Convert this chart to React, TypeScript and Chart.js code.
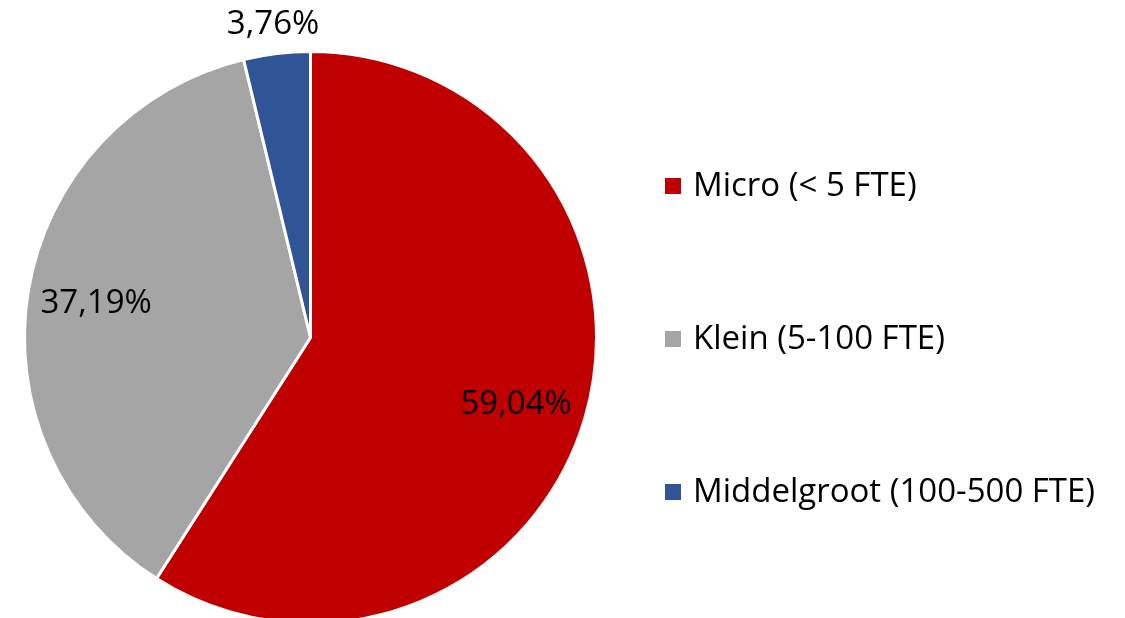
import React, { useEffect, useRef } from "react";
import { Chart, registerables } from "chart.js";

Chart.register(...registerables);

const categories = ["Micro (< 5 FTE)", "Klein (5-100 FTE)", "Middelgroot (100-500 FTE)"];
const shares = [59.04, 37.19, 3.76];
const valueLabels = ["59,04%", "37,19%", "3,76%"];
const colors = ["#C00000", "#A5A5A5", "#2F5597"];

const FONT = '"Open Sans", sans-serif';

const overlayPlugin = {
  id: "overlay",
  afterDraw(chart: any) {
    const ctx = chart.ctx;
    const meta = chart.getDatasetMeta(0);
    const radialFactor = [0.76, 0.76, 1.11];
    ctx.save();
    ctx.font = `33px ${FONT}`;
    ctx.fillStyle = "#000";
    ctx.textAlign = "center";
    ctx.textBaseline = "middle";
    meta.data.forEach((arc: any, i: number) => {
      const p = arc.getProps(["x", "y", "startAngle", "endAngle", "outerRadius"], true);
      const mid = (p.startAngle + p.endAngle) / 2;
      const r = p.outerRadius * radialFactor[i];
      ctx.fillText(valueLabels[i], p.x + Math.cos(mid) * r - (i === 0 ? 3 : 0), p.y + Math.sin(mid) * r + (i === 0 ? 6 : 2));
    });
    // legend
    const lx = 665;
    const ys = [186, 339, 492];
    ctx.textAlign = "left";
    categories.forEach((c, i) => {
      ctx.fillStyle = colors[i];
      ctx.fillRect(lx, ys[i] - 8, 16, 16);
      ctx.fillStyle = "#000";
      ctx.fillText(c, lx + 28, ys[i] + 1);
    });
    ctx.restore();
  },
};

export default function App() {
  const ref = useRef<HTMLCanvasElement | null>(null);
  useEffect(() => {
    if (!ref.current) return;
    const chart = new Chart(ref.current, {
      type: "pie",
      data: {
        labels: categories,
        datasets: [
          {
            data: shares,
            backgroundColor: colors,
            borderColor: "#ffffff",
            borderWidth: 3,
          },
        ],
      },
      options: {
        responsive: false,
        animation: false,
        layout: { padding: { left: 23, top: 50, right: 527, bottom: 75 } },
        plugins: {
          legend: { display: false },
          tooltip: { enabled: false },
        },
      },
      plugins: [overlayPlugin],
    });
    return () => chart.destroy();
  }, []);
  return (
    <div style={{ position: "fixed", left: 0, top: 0, width: 1125, height: 618, overflow: "hidden", background: "#fff" }}>
      <canvas ref={ref} width={1125} height={700} style={{ display: "block" }} />
    </div>
  );
}
